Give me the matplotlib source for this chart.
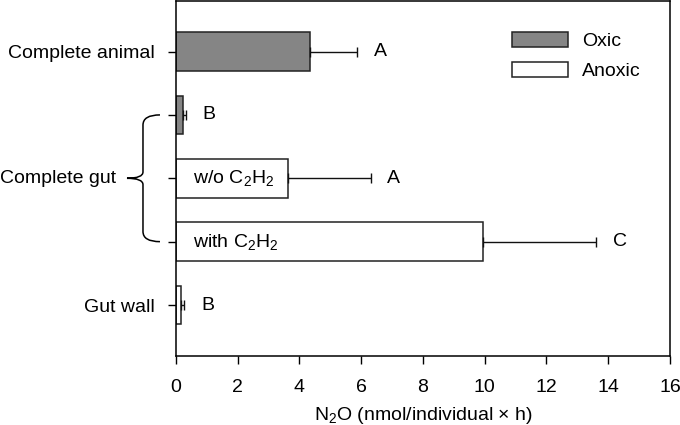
import matplotlib
matplotlib.use("Agg")
import matplotlib.pyplot as plt
from matplotlib.path import Path
from matplotlib.patches import PathPatch, Patch
from matplotlib.transforms import blended_transform_factory

plt.rcParams["font.family"] = ["Liberation Sans", "DejaVu Sans"]
plt.rcParams["mathtext.fontset"] = "custom"
plt.rcParams["mathtext.rm"] = "Liberation Sans"
plt.rcParams["mathtext.it"] = "Liberation Sans:italic"
plt.rcParams["font.size"] = 14

# --- data ---------------------------------------------------------------
rows = ["Complete animal", "gut oxic", "gut w/o C2H2", "gut with C2H2", "Gut wall"]
values = [4.33, 0.23, 3.63, 9.93, 0.17]
errors = [1.52, 0.09, 2.67, 3.67, 0.10]
condition = ["Oxic", "Oxic", "Anoxic", "Anoxic", "Anoxic"]
letters = ["A", "B", "A", "C", "B"]
inner_labels = ["", "", "w/o C$_2$H$_2$", "with C$_2$H$_2$", ""]
tick_labels = ["Complete animal", "", "", "", "Gut wall"]
colors = {"Oxic": "#858585", "Anoxic": "white"}

fig = plt.figure(figsize=(6.8, 4.25), dpi=100)
ax = fig.add_axes([0.2588, 0.163, 0.7265, 0.835])

ypos = list(range(len(rows)))
ax.barh(ypos, values, height=0.61,
        color=[colors[c] for c in condition], edgecolor="#222222", linewidth=1.1,
        zorder=2)
ax.errorbar(values, ypos, xerr=[[0] * len(errors), errors], fmt="none",
            ecolor="#111111", elinewidth=1.0, capsize=3.6, capthick=1.0, zorder=3)

for y, v, e, lt in zip(ypos, values, errors, letters):
    ax.annotate(lt, (v + e, y), xytext=(12.2, 0), textcoords="offset points",
                ha="left", va="center")
for y, lab in zip(ypos, inner_labels):
    if lab:
        ax.annotate(lab, (0, y), xytext=(12.2, 0), textcoords="offset points",
                    ha="left", va="center")

ax.set_xlim(0, 16)
ax.set_xticks(range(0, 17, 2))
ax.set_ylim(4.8, -0.8)
ax.set_yticks(ypos)
ax.set_yticklabels(tick_labels)
ax.tick_params(direction="out", length=5.5, width=1.0, pad=10)
ax.tick_params(axis="x", pad=11)
for s in ax.spines.values():
    s.set_linewidth(1.1)
ax.set_xlabel("N$_2$O (nmol/individual × h)", labelpad=7)

# brace for the "Complete gut" group
tr = blended_transform_factory(ax.transAxes, ax.transData)
xe, xm, xp = -0.0324, -0.0668, -0.0992
verts = [(xe, 1.0), (xm, 1.0), (xm, 1.16),
         (xm, 1.9),
         (xm, 2.0), (xp, 2.0),
         (xm, 2.0), (xm, 2.1),
         (xm, 2.84),
         (xm, 3.0), (xe, 3.0)]
codes = [Path.MOVETO, Path.CURVE3, Path.CURVE3,
         Path.LINETO,
         Path.CURVE3, Path.CURVE3,
         Path.CURVE3, Path.CURVE3,
         Path.LINETO,
         Path.CURVE3, Path.CURVE3]
ax.add_patch(PathPatch(Path(verts, codes), transform=tr, fill=False,
                       edgecolor="black", linewidth=1.1, clip_on=False))
ax.text(-0.121, 2, "Complete gut", transform=tr, ha="right", va="center")

handles = [Patch(facecolor=colors["Oxic"], edgecolor="#222222", linewidth=1.1),
           Patch(facecolor="white", edgecolor="#222222", linewidth=1.1)]
ax.legend(handles, ["Oxic", "Anoxic"], loc="upper left",
          bbox_to_anchor=(0.68, 0.912), frameon=False, borderpad=0,
          borderaxespad=0, handlelength=2.9, handleheight=0.82,
          handletextpad=0.72, labelspacing=0.58)

fig.savefig("out.png", dpi=100)
